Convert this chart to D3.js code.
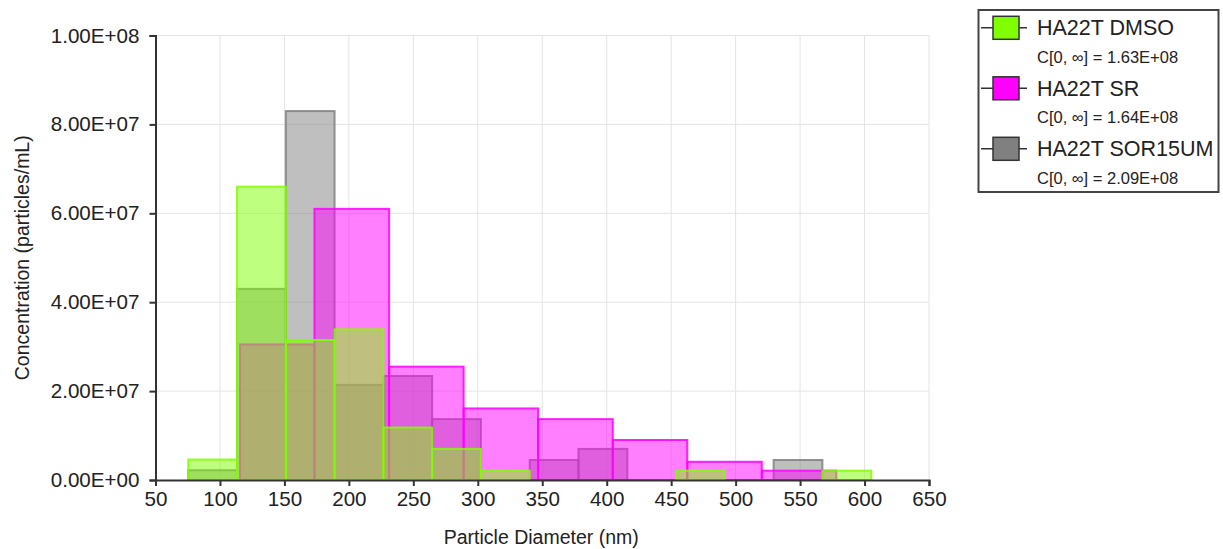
<!DOCTYPE html>
<html>
<head>
<meta charset="utf-8">
<script src="https://cdn.jsdelivr.net/npm/d3@7"></script>
<style>
  html, body { margin: 0; padding: 0; background: #fff; }
  svg { display: block; font-family: "Liberation Sans", Arial, sans-serif; }
</style>
</head>
<body>
<svg id="chart" width="1223" height="549"></svg>
<script>
// Bin edges (nm) for the DMSO and SOR15UM histograms
const edgesDmsoSor = [75.4, 113.2, 151.1, 188.9, 226.8, 264.6, 302.4, 340.3, 378.1, 416.0, 453.8, 491.6, 529.5, 567.3, 605.2];
// Bin edges (nm) for the SR histogram
const edgesSr = [115.5, 173.3, 231.2, 289.0, 346.8, 404.7, 462.5, 520.3, 578.1];

// Concentrations (particles/mL) per bin
const dmsoValues = [4.6e6, 6.6e7, 3.15e7, 3.39e7, 1.18e7, 7.0e6, 2.1e6, 0, 0, 0, 2.1e6, 0, 0, 2.1e6];
const srValues = [3.05e7, 6.1e7, 2.55e7, 1.61e7, 1.37e7, 9.0e6, 4.1e6, 2.1e6];
const sorValues = [2.2e6, 4.3e7, 8.3e7, 2.14e7, 2.34e7, 1.37e7, 0, 4.5e6, 7.0e6, 0, 0, 0, 4.5e6, 0];

// Legend entries
const seriesNames = ["HA22T DMSO", "HA22T SR", "HA22T SOR15UM"];
const seriesTotals = ["1.63E+08", "1.64E+08", "2.09E+08"];
const seriesColors = ["#80ff00", "#ff00ff", "#808080"];

// Axis ticks
const xTicks = [50, 100, 150, 200, 250, 300, 350, 400, 450, 500, 550, 600, 650];
const yTicks = [0, 2e7, 4e7, 6e7, 8e7, 1e8];

const svg = d3.select("#chart");
const plotLeft = 155.5, plotRight = 929, plotTop = 35.5, plotBottom = 480;

const x = d3.scaleLinear().domain([50, 650]).range([plotLeft, plotRight]);
const y = d3.scaleLinear().domain([0, 1e8]).range([plotBottom, plotTop]);

const fmtSci = v => {
  if (v === 0) return "0.00E+00";
  const e = Math.floor(Math.log10(v));
  const m = v / Math.pow(10, e);
  return m.toFixed(2) + "E" + (e >= 0 ? "+" : "-") + String(Math.abs(e)).padStart(2, "0");
};

// Grid lines
const grid = svg.append("g").attr("stroke", "#e4e4e4").attr("stroke-width", 1);
grid.selectAll("line.v").data(xTicks.slice(1)).join("line")
  .attr("x1", d => x(d)).attr("x2", d => x(d))
  .attr("y1", plotTop).attr("y2", plotBottom);
grid.selectAll("line.h").data(yTicks.slice(1)).join("line")
  .attr("x1", plotLeft).attr("x2", plotRight)
  .attr("y1", d => y(d)).attr("y2", d => y(d));

// Histogram bars: gray first, then magenta, then green on top
function drawBars(edges, values, color) {
  const bins = values.map((v, i) => ({ x0: edges[i], x1: edges[i + 1], v }))
    .filter(d => d.v > 0);
  svg.append("g").selectAll("rect").data(bins).join("rect")
    .attr("x", d => x(d.x0))
    .attr("width", d => x(d.x1) - x(d.x0))
    .attr("y", d => y(d.v))
    .attr("height", d => y(0) - y(d.v))
    .attr("fill", color).attr("fill-opacity", 0.5)
    .attr("stroke", color).attr("stroke-opacity", 0.85).attr("stroke-width", 2);
}
drawBars(edgesDmsoSor, sorValues, seriesColors[2]);
drawBars(edgesSr, srValues, seriesColors[1]);
drawBars(edgesDmsoSor, dmsoValues, seriesColors[0]);

// Axes
const xAxis = svg.append("g").attr("transform", `translate(0,${plotBottom})`)
  .call(d3.axisBottom(x).tickValues(xTicks).tickFormat(d3.format("d")).tickSizeOuter(0).tickSize(6).tickPadding(5));
const yAxis = svg.append("g").attr("transform", `translate(${plotLeft},0)`)
  .call(d3.axisLeft(y).tickValues(yTicks).tickFormat(fmtSci).tickSizeOuter(0).tickSize(6).tickPadding(10));
[xAxis, yAxis].forEach(a => {
  a.select(".domain").attr("stroke", "#333").attr("stroke-width", 2);
  a.selectAll(".tick line").attr("stroke", "#333").attr("stroke-width", 2);
  a.selectAll(".tick text").attr("fill", "#222").style("font-size", "20.6px")
    .style("font-family", "'Liberation Sans', Arial, sans-serif");
});

// Axis titles
svg.append("text").attr("x", (plotLeft + plotRight) / 2 - 1).attr("y", 544)
  .attr("text-anchor", "middle").attr("fill", "#222").style("font-size", "19.5px")
  .text("Particle Diameter (nm)");
svg.append("text").attr("transform", `translate(29,${(plotTop + plotBottom) / 2}) rotate(-90)`)
  .attr("text-anchor", "middle").attr("fill", "#222").style("font-size", "19.5px")
  .text("Concentration (particles/mL)");

// Legend
const legend = svg.append("g");
legend.append("rect").attr("x", 978.5).attr("y", 10).attr("width", 240).attr("height", 182)
  .attr("fill", "#fff").attr("stroke", "#444").attr("stroke-width", 2);
const rowStep = 60.5;
seriesNames.forEach((name, i) => {
  const cy = 27.8 + i * rowStep;
  legend.append("line").attr("x1", 981).attr("x2", 1027).attr("y1", cy).attr("y2", cy)
    .attr("stroke", "#333").attr("stroke-width", 1.5);
  legend.append("rect").attr("x", 993).attr("y", cy - 11.5).attr("width", 26).attr("height", 23)
    .attr("fill", seriesColors[i]).attr("stroke", "#333").attr("stroke-width", 1.5);
  legend.append("text").attr("x", 1037).attr("y", cy + 7.5)
    .attr("fill", "#222").style("font-size", "21.5px").text(name);
  legend.append("text").attr("x", 1037).attr("y", cy + 35)
    .attr("fill", "#222").style("font-size", "16.5px").text("C[0, ∞] = " + seriesTotals[i]);
});
</script>
</body>
</html>
